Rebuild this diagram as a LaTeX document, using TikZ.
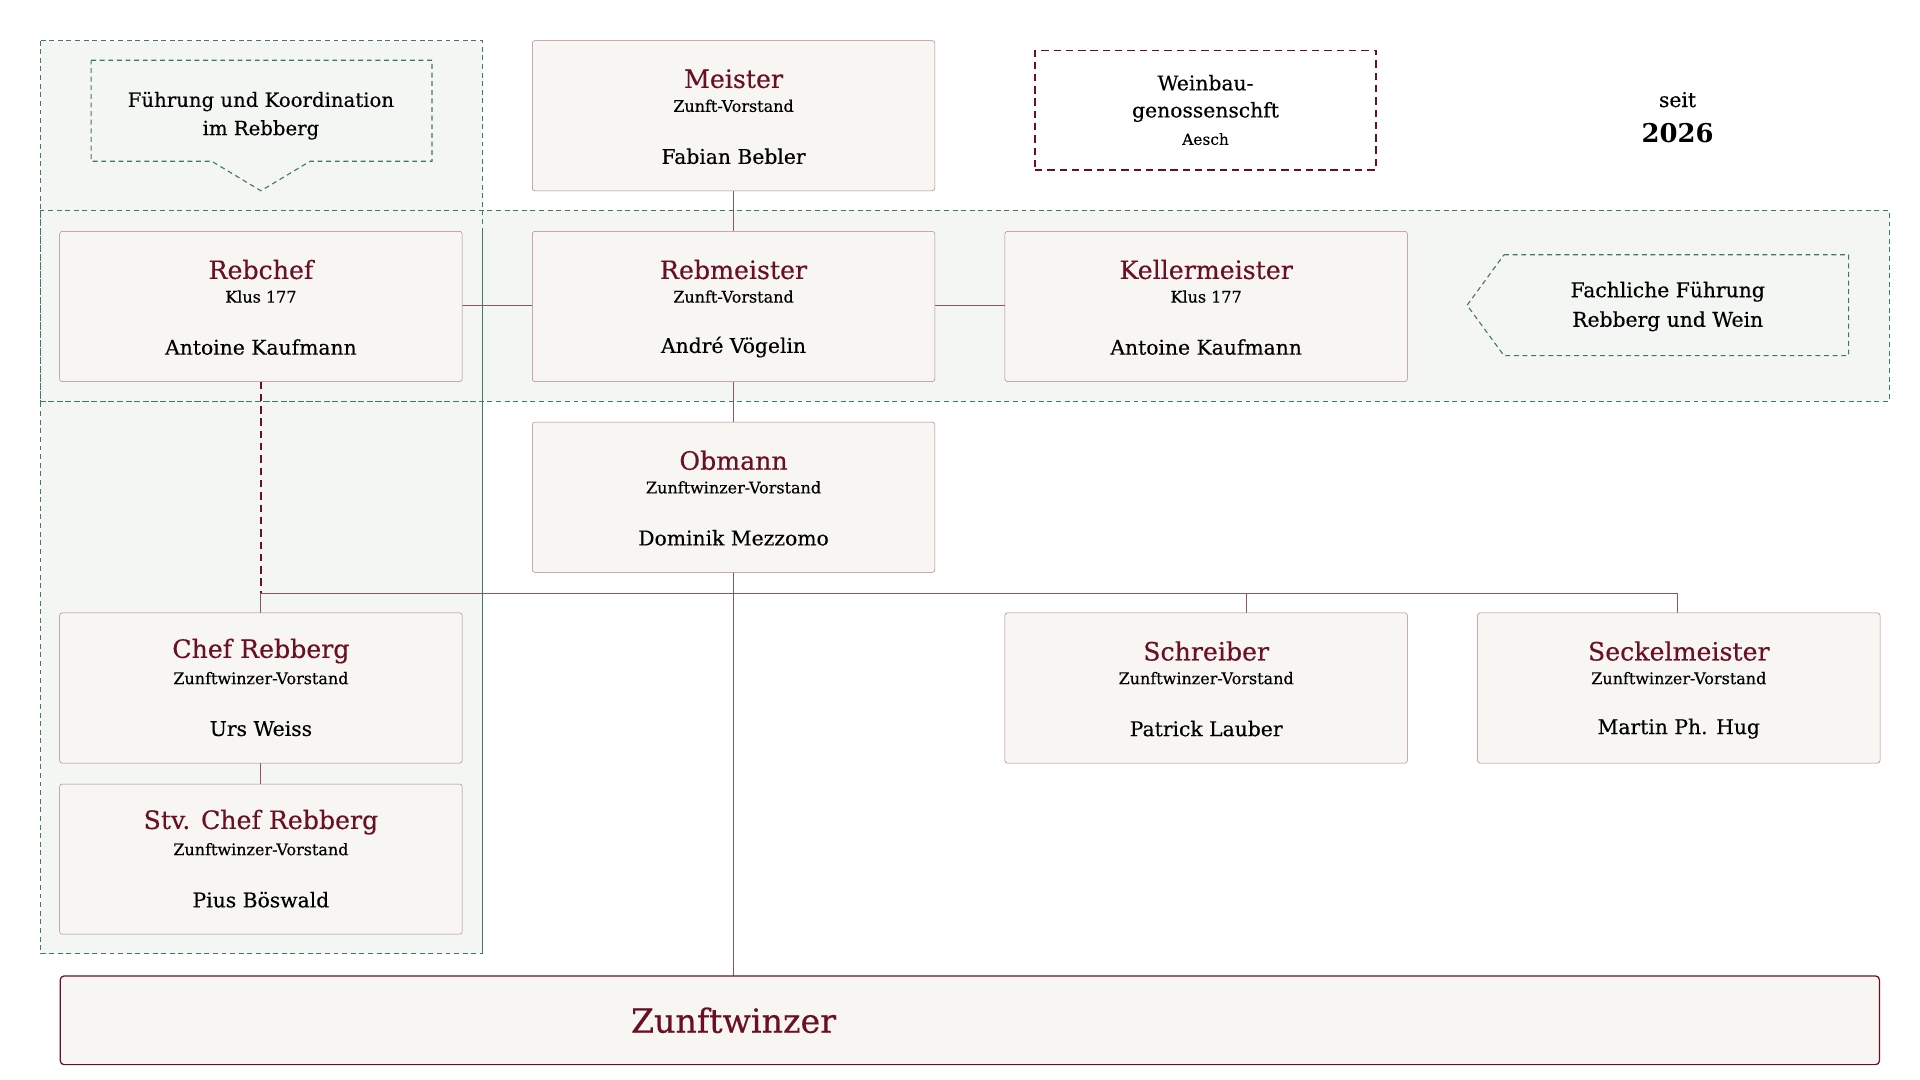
\documentclass[tikz,border=0pt]{standalone}
\usepackage{fontspec}
\setmainfont{DejaVu Serif}[FakeBold=0.4]
\newfontfamily\boldf{DejaVu Serif Bold}
\begin{document}
\definecolor{boxfill}{HTML}{F7F6F2}
\definecolor{boxline}{HTML}{B07F86}
\definecolor{ttl}{HTML}{6B1024}
\definecolor{conn}{HTML}{8E5560}
\definecolor{grn}{HTML}{3F7A5A}
\definecolor{grnfill}{HTML}{F4F6F4}
\begin{tikzpicture}[x=1pt,y=-1pt,
  box/.style={draw=boxline,fill=boxfill,rounded corners=2pt,minimum width=327pt,minimum height=122pt,inner sep=0pt},
  ttlt/.style={text=ttl,font=\fontsize{20.5}{22}\selectfont},
  subt/.style={font=\fontsize{13}{15}\selectfont},
  pers/.style={font=\fontsize{16.5}{19}\selectfont},
  gd/.style={draw=grn,dash pattern=on 4pt off 3pt,line width=0.9pt},
  ln/.style={draw=conn,line width=0.7pt}]
\useasboundingbox (0,0) rectangle (1560,877);
\newcommand{\orgbox}[6]{%
  \node[box] (#1) at (#2,#3+61) {};
  \node[ttlt] (#1t) at (#2,#3+31) {#4};
  \node[subt] (#1s) at (#2,#3+53) {#5};
  \node[pers] (#1p) at (#2,#3+94) {#6};}
% zones
\fill[grnfill] (33,33) rectangle (392,775);
\fill[grnfill] (33,171) rectangle (1535,326);
\draw[gd] (33,33) rectangle (392,775);
\draw[gd] (33,171) rectangle (1535,326);
% callouts
\draw[gd,fill=grnfill] (74,49) -- (351,49) -- (351,131) -- (252,131) -- (212,155) -- (172,131) -- (74,131) -- cycle;
\node[pers,align=center,font=\fontsize{16}{23}\selectfont] (c1) at (212,94) {Führung und Koordination\\im Rebberg};
\draw[gd,fill=grnfill] (1222,207) -- (1502,207) -- (1502,289) -- (1222,289) -- (1192,248) -- cycle;
\node[pers,align=center,font=\fontsize{16.5}{24}\selectfont] (c2) at (1355,249) {Fachliche Führung\\Rebberg und Wein};
% weinbau
\node[draw=ttl,dash pattern=on 6pt off 4pt,line width=1.1pt,minimum width=277pt,minimum height=97pt] (wb) at (979.5,89.5) {};
\node[pers,align=center,font=\fontsize{16.5}{22}\selectfont] (wbt) at (979.5,80) {Weinbau-\\genossenschft};
\node[subt,font=\fontsize{12.5}{13}\selectfont] (wbs) at (979.5,113) {Aesch};
\node[pers] (seit) at (1363,81) {seit};
\node[font=\boldf\fontsize{21}{24}\selectfont] (yr) at (1363,108) {2026};
% coordinates for connectors
\coordinate (j1) at (212,482);
\coordinate (j3) at (1013,482);
\coordinate (j4) at (1363,482);
\coordinate (jz) at (596,793);
% connectors
\draw[ln] (596,155) -- (596,188);
\draw[ln] (375,248) -- (433,248);
\draw[ln] (759,248) -- (817,248);
\draw[ln] (596,310) -- (596,343);
\draw[ln] (596,465) -- (jz);
\draw[ln] (j1) -- (j4);
\draw[ln] (j1) -- (212,498);
\draw[ln] (j3) -- (1013,498);
\draw[ln] (j4) -- (1363,498);
\draw[ln] (212,620) -- (212,637);
\draw[draw=ttl,dash pattern=on 6pt off 4pt,line width=1.1pt] (212,310) -- (j1);
% boxes
\orgbox{meister}{596}{33}{Meister}{Zunft-Vorstand}{Fabian Bebler}
\orgbox{rebchef}{212}{188}{Rebchef}{Klus 177}{Antoine Kaufmann}
\orgbox{rebm}{596}{188}{Rebmeister}{Zunft-Vorstand}{André Vögelin}
\orgbox{keller}{980}{188}{Kellermeister}{Klus 177}{Antoine Kaufmann}
\orgbox{obm}{596}{343}{Obmann}{Zunftwinzer-Vorstand}{Dominik Mezzomo}
\orgbox{chef}{212}{498}{Chef Rebberg}{Zunftwinzer-Vorstand}{Urs Weiss}
\orgbox{stv}{212}{637}{Stv. Chef Rebberg}{Zunftwinzer-Vorstand}{Pius Böswald}
\orgbox{schr}{980}{498}{Schreiber}{Zunftwinzer-Vorstand}{Patrick Lauber}
\orgbox{seck}{1364}{498}{Seckelmeister}{Zunftwinzer-Vorstand}{Martin Ph. Hug}
\node[draw=ttl,fill=boxfill,rounded corners=3pt,line width=1pt,minimum width=1478pt,minimum height=72pt] (zw) at (788,829) {};
\node[text=ttl,font=\fontsize{27}{30}\selectfont] (zwt) at (596,829) {Zunftwinzer};
\draw[gd] (392,188) -- (392,775);
\draw[gd] (33,326) -- (392,326);
\end{tikzpicture}
\end{document}
